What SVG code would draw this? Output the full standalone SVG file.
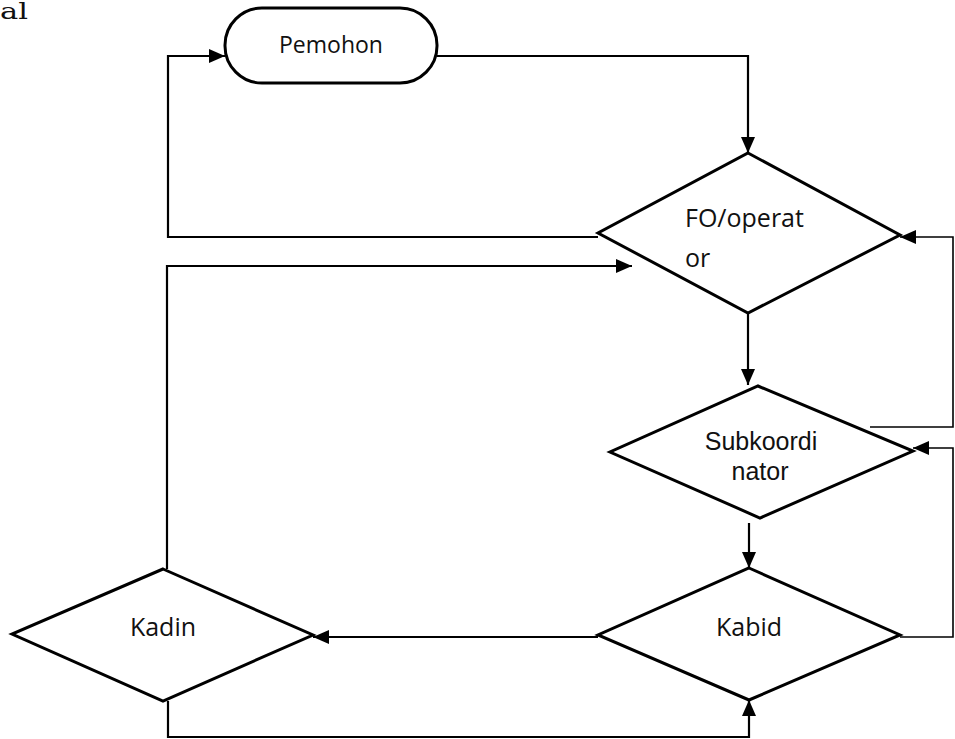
<svg xmlns="http://www.w3.org/2000/svg" width="955" height="739" viewBox="0 0 955 739">
<style>
.shape{fill:#fff;stroke:#000;stroke-width:3;stroke-linejoin:miter}
.conn{fill:none;stroke:#000;stroke-width:2.2}
.thin{fill:none;stroke:#000;stroke-width:1.6}
.lbl{font-family:"Open Sans","Liberation Sans",sans-serif;font-size:25px;fill:#111}
.arial{font-family:"Liberation Sans",Arial,sans-serif;font-size:25px;fill:#111}
</style>
<defs>
<marker id="ah" markerWidth="16" markerHeight="14" refX="16" refY="7" orient="auto" markerUnits="userSpaceOnUse">
<path d="M0,0 L16,7 L0,14 Z" fill="#000"/>
</marker>
</defs>
<rect width="955" height="739" fill="#fff"/>
<text x="0" y="19" textLength="28" lengthAdjust="spacingAndGlyphs" style="font-family:'DejaVu Serif','Liberation Serif',serif;font-size:23px;fill:#111">al</text>
<g id="connectors">
<path class="conn" d="M437,56 H748 V153" marker-end="url(#ah)"/>
<path class="conn" d="M598,237 H168 V56 H225" marker-end="url(#ah)"/>
<path class="conn" d="M167,569 V266 H632" marker-end="url(#ah)"/>
<path class="conn" d="M748,313 V385" marker-end="url(#ah)"/>
<path class="thin" d="M870,427 H953 V237 H900" marker-end="url(#ah)"/>
<path class="thin" d="M900,637 H953 V448 H913" marker-end="url(#ah)"/>
<path class="conn" d="M749,523 V568" marker-end="url(#ah)"/>
<path class="conn" d="M598,637 H313" marker-end="url(#ah)"/>
<path class="conn" d="M168,701 V737 H749 V700" marker-end="url(#ah)"/>
</g>
<g id="pemohon">
<rect class="shape" x="225" y="8" width="212" height="75" rx="37" ry="37"/>
<text class="lbl" x="331" y="53" text-anchor="middle" style="font-size:23px">Pemohon</text>
</g>
<g id="fo-operator">
<polygon class="shape" points="748,153 900,235 748,313 598,233"/>
<text class="lbl" x="685" y="227">FO/operat</text>
<text class="lbl" x="685" y="267">or</text>
</g>
<g id="subkoordinator">
<polygon class="shape" points="758,386 913,451 760,518 610,452"/>
<text class="arial" x="761" y="450" text-anchor="middle">Subkoordi</text>
<text class="arial" x="760" y="480" text-anchor="middle">nator</text>
</g>
<g id="kabid">
<polygon class="shape" points="749,568 900,635 749,700 598,635"/>
<text class="lbl" x="749" y="636" text-anchor="middle">Kabid</text>
</g>
<g id="kadin">
<polygon class="shape" points="163,569 313,635 163,701 12,634"/>
<text class="lbl" x="163" y="636" text-anchor="middle">Kadin</text>
</g>
</svg>
